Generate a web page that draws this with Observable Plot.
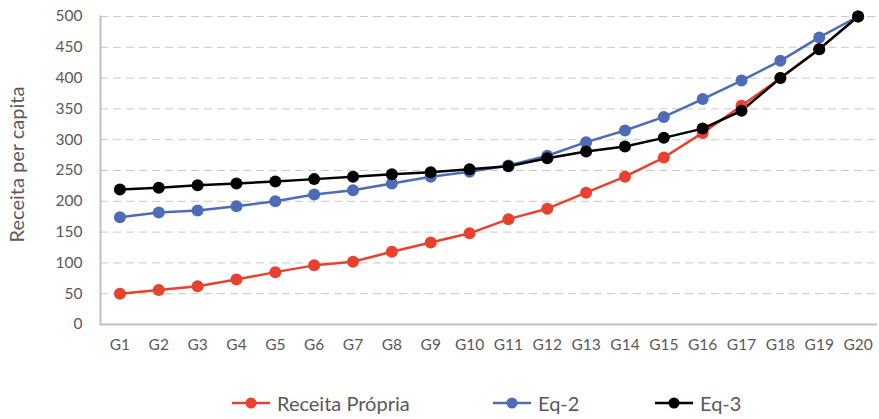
<!DOCTYPE html>
<html><head><meta charset="utf-8">
<script src="https://cdn.jsdelivr.net/npm/d3@7"></script>
<script src="https://cdn.jsdelivr.net/npm/@observablehq/plot@0.6"></script>
<style>
body{margin:0;background:#fff;font-family:Lato,sans-serif;}
#legend{position:relative;height:30px;margin-top:26px;font-size:20px;color:#595959;}
.item{position:absolute;top:0;display:flex;align-items:center;height:30px;}
.item svg{margin-right:7px;}
</style></head>
<body><div id="chart"></div><div id="legend"></div>
<script>
const categories = ["G1","G2","G3","G4","G5","G6","G7","G8","G9","G10","G11","G12","G13","G14","G15","G16","G17","G18","G19","G20"];
const receitaPropria = [50,56,62,73,85,96,102,118,133,148,171,188,214,240,271,311,355,400,447,500];
const eq2 = [174,182,185,192,200,211,218,229,240,248,258,274,296,315,337,366,396,428,466,500];
const eq3 = [219,222,226,229,232,236,240,244,247,252,257,270,281,289,303,318,347,400,447,500];
const seriesNames = ["Receita Própria","Eq-2","Eq-3"];
const seriesColors = ["#e8412f","#4e6cb5","#000000"];
const yTicks = [0,50,100,150,200,250,300,350,400,450,500];

const seriesValues = [receitaPropria, eq2, eq3];
const data = [];
seriesNames.forEach((s,i)=>categories.forEach((c,j)=>data.push({series:s,cat:c,value:seriesValues[i][j]})));

const plot = Plot.plot({
  width: 879, height: 362,
  marginLeft: 100, marginRight: 2, marginTop: 16, marginBottom: 38,
  style:{fontFamily:"Lato, sans-serif", fontSize:"15px", color:"#595959", background:"#fff"},
  x:{type:"point", domain:categories, padding:0.5, round:false, label:null},
  y:{domain:[0,500], ticks:yTicks, label:null},
  color:{domain:seriesNames, range:seriesColors},
  marks:[
    Plot.gridY(yTicks.filter(d=>d>0),{stroke:"#c8c8c8", strokeOpacity:1, strokeDasharray:"8,5", strokeWidth:1}),
    Plot.frame({anchor:"left", stroke:"#c0c0c0", strokeWidth:2}),
    Plot.ruleY([0],{stroke:"#c0c0c0", strokeWidth:2}),
    Plot.axisY({ticks:yTicks, tickSize:0, tickPadding:18, fontSize:15.5, fill:"#595959", label:null}),
    Plot.axisX({tickSize:0, tickPadding:14, fontSize:15.5, fill:"#595959", label:null}),
    Plot.text(["Receita per capita"],{frameAnchor:"left", textAnchor:"middle", dx:-83, dy:-6, rotate:-90, fontSize:20, fill:"#595959"}),
    Plot.line(data,{x:"cat", y:"value", z:"series", stroke:"series", strokeWidth:2.5}),
    Plot.dot(data,{x:"cat", y:"value", fill:"series", r:6})
  ]
});
document.getElementById("chart").appendChild(plot);

const legend = document.getElementById("legend");
const legendLeft = [232, 493, 655];
seriesNames.forEach((s,i)=>{
  const div=document.createElement("div"); div.className="item";
  div.style.left = legendLeft[i]+"px";
  div.innerHTML=`<svg width="38" height="14"><line x1="0" y1="7" x2="38" y2="7" stroke="${seriesColors[i]}" stroke-width="2.5"/><circle cx="19" cy="7" r="5.5" fill="${seriesColors[i]}"/></svg><span>${s}</span>`;
  legend.appendChild(div);
});
</script></body></html>
